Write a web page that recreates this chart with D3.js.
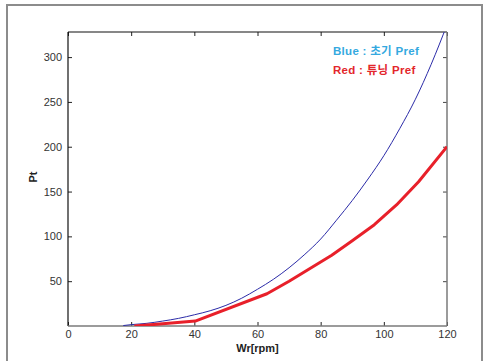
<!DOCTYPE html>
<html>
<head>
<meta charset="utf-8">
<script src="https://cdn.jsdelivr.net/npm/d3@7"></script>
<style>
  body { margin: 0; background: #fff; }
  svg { display: block; font-family: "Liberation Sans", Arial, "Noto Sans CJK KR", sans-serif; }
</style>
</head>
<body>
<div id="chart"></div>
<script>
// speed (rpm) vs Pt
const blueW = [17.5, 20, 25, 30, 35, 40, 45, 50, 55, 60, 65, 70, 75, 80, 85, 90, 95, 100, 105, 110, 115, 120];
const blueP = [0.5, 1.5, 3, 5.5, 8.5, 12.5, 17, 23, 31, 41, 52, 65, 80, 97, 118, 140, 164, 190, 220, 253, 292, 336];

const redW = [21, 25, 30, 40.3, 63, 70, 83.5, 90, 97, 104, 111, 120];
const redP = [0, 1, 2.5, 5.5, 36, 50, 79, 95, 113, 135, 161, 200];

const xTicks = [0, 20, 40, 60, 80, 100, 120];
const yTicks = [50, 100, 150, 200, 250, 300];

const legendLines = [
  {text: 'Blue : 초기 Pref', color: '#35a9df'},
  {text: 'Red : 튜닝 Pref', color: '#e3262c'}
];

const W = 488, H = 361;
const margin = {top: 32, right: 41, bottom: 35, left: 68};
const width = W - margin.left - margin.right;
const height = H - margin.top - margin.bottom;

const svg = d3.select('#chart').append('svg')
    .attr('width', W)
    .attr('height', H);

// outer frame (cut off at the bottom)
svg.append('rect')
    .attr('x', 7).attr('y', 5)
    .attr('width', 475).attr('height', 370)
    .attr('fill', 'none')
    .attr('stroke', '#8c8c8c')
    .attr('stroke-width', 2);

const x = d3.scaleLinear().domain([0, 120]).range([0, width]);
const y = d3.scaleLinear().domain([0, 328]).range([height, 0]);

const g = svg.append('g')
    .attr('transform', `translate(${margin.left},${margin.top})`);

g.append('clipPath').attr('id', 'clip')
  .append('rect').attr('width', width).attr('height', height);

// axes, ticks inside
const tickStyle = sel => sel.call(s => s.selectAll('text')
      .attr('fill', '#333').attr('font-size', 11))
    .call(s => s.select('.domain').remove());

g.append('g')
    .attr('transform', `translate(0,${height})`)
    .call(d3.axisBottom(x).tickValues(xTicks).tickSize(-4).tickPadding(4))
    .call(tickStyle)
    .call(s => s.selectAll('line').attr('stroke', '#222'));

g.append('g')
    .call(d3.axisTop(x).tickValues(xTicks).tickSize(-4).tickFormat(''))
    .call(tickStyle)
    .call(s => s.selectAll('line').attr('stroke', '#222'));

g.append('g')
    .call(d3.axisLeft(y).tickValues(yTicks).tickSize(-4).tickPadding(6))
    .call(tickStyle)
    .call(s => s.selectAll('line').attr('stroke', '#222'));

g.append('g')
    .attr('transform', `translate(${width},0)`)
    .call(d3.axisRight(y).tickValues(yTicks).tickSize(-4).tickFormat(''))
    .call(tickStyle)
    .call(s => s.selectAll('line').attr('stroke', '#444'));

// box: left/top black, right/bottom grey
g.append('line').attr('x1', 0).attr('x2', width).attr('y1', 0).attr('y2', 0)
    .attr('stroke', '#111').attr('stroke-width', 1.2);
g.append('line').attr('x1', 0).attr('x2', 0).attr('y1', 0).attr('y2', height)
    .attr('stroke', '#111').attr('stroke-width', 1.2);
g.append('line').attr('x1', 0).attr('x2', width).attr('y1', height).attr('y2', height)
    .attr('stroke', '#7a7a7a').attr('stroke-width', 1.5);
g.append('line').attr('x1', width).attr('x2', width).attr('y1', 0).attr('y2', height)
    .attr('stroke', '#7a7a7a').attr('stroke-width', 1.5);

const line = d3.line()
    .x(d => x(d[0]))
    .y(d => y(d[1]))
    .curve(d3.curveMonotoneX);

const lines = g.append('g').attr('clip-path', 'url(#clip)');

lines.append('path')
    .datum(d3.zip(blueW, blueP))
    .attr('d', line)
    .attr('fill', 'none')
    .attr('stroke', '#2b2ba8')
    .attr('stroke-width', 1);

lines.append('path')
    .datum(d3.zip(redW, redP))
    .attr('d', line.curve(d3.curveLinear))
    .attr('fill', 'none')
    .attr('stroke', '#e8202a')
    .attr('stroke-width', 3)
    .attr('stroke-linejoin', 'round');

// legend text
g.selectAll('.legend')
  .data(legendLines)
  .join('text')
    .attr('class', 'legend')
    .attr('x', 265)
    .attr('y', (d, i) => 23 + i * 19)
    .attr('fill', d => d.color)
    .attr('font-size', 11.5)
    .attr('font-weight', 'bold')
    .attr('letter-spacing', 0.3)
    .text(d => d.text);

// axis labels
svg.append('text')
    .attr('x', margin.left + width / 2)
    .attr('y', 352)
    .attr('text-anchor', 'middle')
    .attr('font-size', 11)
    .attr('font-weight', 'bold')
    .attr('fill', '#222')
    .text('Wr[rpm]');

svg.append('text')
    .attr('transform', 'translate(37,177) rotate(-90)')
    .attr('text-anchor', 'middle')
    .attr('font-size', 11)
    .attr('font-weight', 'bold')
    .attr('fill', '#222')
    .text('Pt');
</script>
</body>
</html>
